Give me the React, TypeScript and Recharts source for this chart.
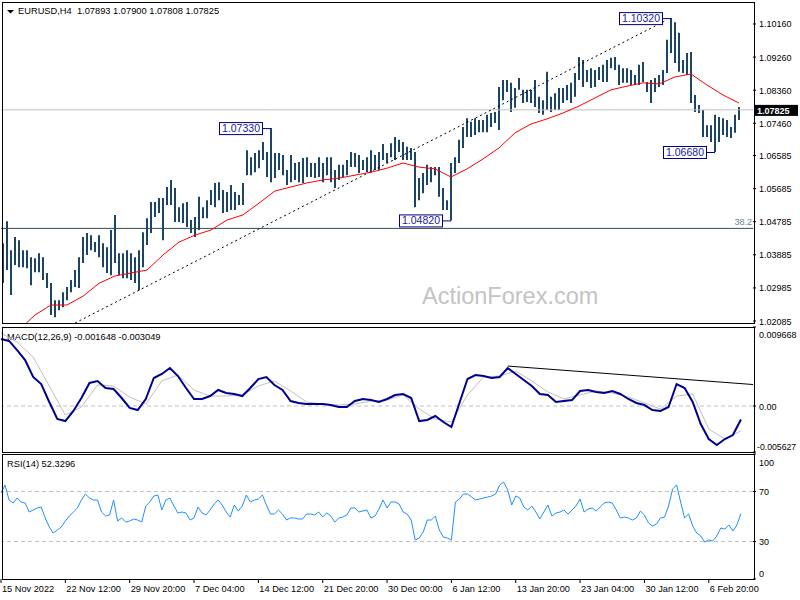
import React from 'react';
import { ComposedChart, Bar, Line, XAxis, YAxis, ReferenceLine, ReferenceDot } from 'recharts';

// H4 bars (each slot = one 4px column), highs / lows
const highs = [
  1.0420, 1.0480, 1.0401, 1.0437, 1.0428, 1.0401, 1.0401, 1.0382, 1.0379, 1.0393,
  1.0382, 1.0339, 1.0312, 1.0265, 1.0265, 1.0287, 1.0301, 1.0320, 1.0347, 1.0382,
  1.0437, 1.0448, 1.0442, 1.0423, 1.0442, 1.0420, 1.0409, 1.0456, 1.0497, 1.0393,
  1.0393, 1.0401, 1.0393, 1.0382, 1.0401, 1.0450, 1.0488, 1.0532, 1.0532, 1.0543,
  1.0543, 1.0573, 1.0592, 1.0570, 1.0518, 1.0529, 1.0532, 1.0483, 1.0491, 1.0546,
  1.0518, 1.0537, 1.0565, 1.0584, 1.0586, 1.0565, 1.0559, 1.0578, 1.0559, 1.0551,
  1.0584, 1.0673, 1.0654, 1.0665, 1.0673, 1.0695, 1.0668, 1.0733, 1.0665, 1.0665,
  1.0660, 1.0619, 1.0660, 1.0638, 1.0641, 1.0652, 1.0654, 1.0638, 1.0638, 1.0654,
  1.0638, 1.0654, 1.0654, 1.0619, 1.0633, 1.0633, 1.0646, 1.0668, 1.0665, 1.0660,
  1.0646, 1.0654, 1.0673, 1.0660, 1.0668, 1.0690, 1.0665, 1.0692, 1.0709, 1.0701,
  1.0695, 1.0682, 1.0679, 1.0668, 1.0597, 1.0611, 1.0633, 1.0627, 1.0627, 1.0627,
  1.0570, 1.0537, 1.0638, 1.0654, 1.0701, 1.0736, 1.0760, 1.0750, 1.0760, 1.0755,
  1.0755, 1.0769, 1.0774, 1.0777, 1.0845, 1.0864, 1.0864, 1.0856, 1.0842, 1.0869,
  1.0837, 1.0837, 1.0837, 1.0864, 1.0818, 1.0809, 1.0886, 1.0818, 1.0828, 1.0842,
  1.0842, 1.0850, 1.0856, 1.0883, 1.0926, 1.0918, 1.0891, 1.0896, 1.0891, 1.0899,
  1.0905, 1.0918, 1.0924, 1.0926, 1.0905, 1.0896, 1.0896, 1.0891, 1.0877, 1.0905,
  1.0913, 1.0858, 1.0864, 1.0869, 1.0877, 1.0891, 1.0973, 1.1032, 1.1021, 1.0992,
  1.0918, 1.0937, 1.0940, 1.0823, 1.0796, 1.0782, 1.0741, 1.0741, 1.0769, 1.0763,
  1.0760, 1.0755, 1.0736, 1.0769, 1.0790,
];
const lows = [
  1.0312, 1.0347, 1.0279, 1.0361, 1.0355, 1.0355, 1.0352, 1.0306, 1.0341, 1.0341,
  1.0320, 1.0298, 1.0225, 1.0219, 1.0238, 1.0246, 1.0265, 1.0287, 1.0301, 1.0298,
  1.0366, 1.0388, 1.0401, 1.0396, 1.0382, 1.0355, 1.0339, 1.0333, 1.0366, 1.0333,
  1.0325, 1.0325, 1.0320, 1.0312, 1.0292, 1.0355, 1.0415, 1.0448, 1.0491, 1.0502,
  1.0428, 1.0524, 1.0524, 1.0478, 1.0478, 1.0475, 1.0464, 1.0448, 1.0437, 1.0456,
  1.0488, 1.0488, 1.0524, 1.0518, 1.0537, 1.0502, 1.0505, 1.0510, 1.0510, 1.0524,
  1.0524, 1.0605, 1.0605, 1.0613, 1.0624, 1.0646, 1.0600, 1.0586, 1.0597, 1.0619,
  1.0605, 1.0578, 1.0586, 1.0592, 1.0586, 1.0584, 1.0600, 1.0600, 1.0597, 1.0600,
  1.0586, 1.0605, 1.0586, 1.0570, 1.0592, 1.0600, 1.0605, 1.0627, 1.0627, 1.0611,
  1.0619, 1.0613, 1.0613, 1.0619, 1.0619, 1.0646, 1.0638, 1.0654, 1.0646, 1.0668,
  1.0646, 1.0646, 1.0646, 1.0518, 1.0537, 1.0556, 1.0578, 1.0586, 1.0605, 1.0546,
  1.0510, 1.0510, 1.0482, 1.0611, 1.0638, 1.0679, 1.0709, 1.0709, 1.0714, 1.0722,
  1.0722, 1.0722, 1.0736, 1.0747, 1.0728, 1.0809, 1.0831, 1.0777, 1.0788, 1.0837,
  1.0801, 1.0804, 1.0801, 1.0790, 1.0774, 1.0769, 1.0782, 1.0777, 1.0782, 1.0782,
  1.0801, 1.0809, 1.0801, 1.0818, 1.0864, 1.0845, 1.0858, 1.0842, 1.0845, 1.0864,
  1.0858, 1.0858, 1.0896, 1.0891, 1.0850, 1.0856, 1.0856, 1.0850, 1.0850, 1.0850,
  1.0858, 1.0831, 1.0801, 1.0831, 1.0845, 1.0850, 1.0883, 1.0937, 1.0910, 1.0886,
  1.0883, 1.0877, 1.0801, 1.0777, 1.0774, 1.0709, 1.0709, 1.0695, 1.0668, 1.0695,
  1.0714, 1.0709, 1.0706, 1.0720, 1.0755,
];

// red moving average, one reading every 4th slot starting at slot 4
const ma = [
  1.0184, 1.0225, 1.0252, 1.0252, 1.0276, 1.0311, 1.0331, 1.0339, 1.0347, 1.0388,
  1.0423, 1.0442, 1.0456, 1.0483, 1.0497, 1.0529, 1.0562, 1.0573, 1.0584, 1.0592,
  1.0597, 1.0605, 1.0613, 1.0624, 1.0638, 1.0627, 1.0622, 1.0600, 1.0622, 1.0649,
  1.0679, 1.0720, 1.0744, 1.0758, 1.0774, 1.0793, 1.0815, 1.0837, 1.0847, 1.0856,
  1.0853, 1.0872, 1.0880, 1.0850, 1.0823, 1.0801,
];

// MACD main line, every 2nd slot
const macd = [
  0.00820, 0.00796, 0.00685, 0.00563, 0.00355, 0.00269, 0.00049, -0.00159, -0.00184, -0.00061,
  0.00098, 0.00282, 0.00306, 0.00220, 0.00208, 0.00098, -0.00024, -0.00049, 0.00086, 0.00343,
  0.00392, 0.00465, 0.00367, 0.00220, 0.00086, 0.00086, 0.00122, 0.00196, 0.00159, 0.00147,
  0.00122, 0.00220, 0.00330, 0.00355, 0.00257, 0.00196, 0.00061, 0.00037, 0.00024, 0.00024,
  0.00024, 0.00012, -0.00012, -0.00012, 0.00061, 0.00086, 0.00073, 0.00049, 0.00086, 0.00135,
  0.00147, 0.00098, -0.00184, -0.00171, -0.00122, -0.00196, -0.00257, 0.00037, 0.00330, 0.00379,
  0.00367, 0.00343, 0.00355, 0.00465, 0.00392, 0.00318, 0.00245, 0.00147, 0.00135, 0.00049,
  0.00061, 0.00073, 0.00184, 0.00196, 0.00171, 0.00159, 0.00184, 0.00147, 0.00086, 0.00037,
  0.00012, -0.00049, -0.00061, -0.00012, 0.00269, 0.00220, 0.00049, -0.00220, -0.00404, -0.00477,
  -0.00404, -0.00355, -0.00165,
];
// MACD signal, every 4th slot
const signal = [
  0.00894, 0.00783, 0.00600, 0.00245, -0.00110, -0.00012, 0.00257, 0.00245, 0.00110, 0.00024,
  0.00306, 0.00379, 0.00196, 0.00122, 0.00122, 0.00135, 0.00245, 0.00306, 0.00184, 0.00049,
  0.00024, 0.00012, 0.00024, 0.00061, 0.00073, 0.00135, -0.00037, -0.00159, -0.00196, 0.00135,
  0.00355, 0.00367, 0.00428, 0.00306, 0.00171, 0.00086, 0.00135, 0.00184, 0.00159, 0.00110,
  0.00037, -0.00037, 0.00122, 0.00147, -0.00282, -0.00404, -0.00305,
];

// RSI(14), every slot
const rsi = [
  68.8, 75.2, 63.2, 60.8, 64.8, 61.6, 60.8, 53.6, 55.2, 56.8,
  57.6, 48.8, 41.6, 36.8, 39.2, 41.6, 46.4, 50.4, 53.6, 56.8,
  63.2, 68.0, 64.8, 63.2, 63.2, 53.6, 50.4, 51.2, 63.2, 46.4,
  48.8, 45.6, 46.4, 48.0, 47.2, 45.6, 58.4, 61.6, 66.4, 67.2,
  55.2, 63.2, 64.8, 58.4, 52.8, 53.6, 52.8, 47.2, 48.8, 57.6,
  52.8, 51.2, 55.2, 60.0, 63.2, 59.2, 53.6, 49.6, 59.2, 54.4,
  58.4, 67.2, 61.6, 63.2, 64.0, 67.2, 59.2, 52.0, 52.0, 55.2,
  52.0, 47.2, 48.8, 48.8, 48.0, 48.0, 52.0, 52.0, 51.2, 53.6,
  49.6, 52.8, 50.4, 45.6, 48.8, 49.6, 51.2, 56.8, 56.8, 53.6,
  54.4, 55.2, 48.8, 50.4, 56.0, 63.2, 56.8, 61.6, 61.6, 60.0,
  53.6, 52.0, 47.2, 31.2, 32.8, 37.6, 47.2, 47.2, 50.4, 39.2,
  33.6, 32.8, 31.2, 61.6, 64.0, 68.0, 68.0, 65.6, 63.2, 64.0,
  64.8, 65.6, 66.4, 68.0, 75.2, 77.6, 71.2, 59.2, 66.4, 64.8,
  57.6, 55.2, 58.4, 53.6, 48.0, 53.6, 59.2, 50.4, 52.8, 53.6,
  55.2, 52.0, 55.2, 58.4, 64.0, 53.6, 56.0, 56.8, 54.4, 57.6,
  60.8, 61.6, 60.8, 55.2, 48.8, 49.6, 48.8, 47.2, 48.8, 54.4,
  51.2, 44.8, 42.4, 44.0, 48.8, 49.6, 58.4, 72.0, 75.2, 61.6,
  48.8, 52.0, 42.4, 36.8, 34.4, 29.6, 31.2, 30.4, 34.4, 40.8,
  40.0, 43.2, 38.4, 43.2, 52.3,
];

const timeLabels = [
  '15 Nov 2022', '22 Nov 12:00', '29 Nov 20:00', '7 Dec 04:00', '14 Dec 12:00', '21 Dec 20:00',
  '30 Dec 00:00', '6 Jan 12:00', '13 Jan 20:00', '23 Jan 04:00', '30 Jan 12:00', '6 Feb 20:00',
];
const timeLabelSlots = [0, 16, 32, 48, 64, 80, 96, 112, 128, 144, 160, 176];

const priceTicks = [1.1016, 1.0926, 1.0836, 1.0746, 1.06585, 1.05685, 1.04785, 1.03885, 1.02985, 1.02085];
const macdTicks = [0.009668, 0, -0.005627];
const rsiTicks = [100, 70, 30, 0];
const rsiLevels = [70, 30];

const lastPrice = 1.07825;
const fibLevel = 1.04603;
const fibText = '38.2';
const peakSlots = [67, 112, 167, 178];
const peakValues = [1.0733, 1.0482, 1.1032, 1.0668];
const priceTrend = [{ x: 18, y: 1.0203 }, { x: 166, y: 1.1027 }];
const macdTrend = [{ x: 126, y: 0.00489 }, { x: 187, y: 0.00263 }];

const SLOTS = 188;
const BAR_COLOR = '#1b4562';
const FONT = "'Liberation Sans', Arial, sans-serif";

const rows = Array.from({ length: SLOTS }, (_, i) => {
  const has = i < highs.length;
  return {
    i,
    hl: has ? [lows[i], highs[i]] : null,
    ma: has && i >= 4 && i % 4 === 0 ? ma[i / 4 - 1] : null,
    macd: has && i % 2 === 0 ? macd[i / 2] : null,
    signal: has && i % 4 === 0 ? signal[i / 4] : null,
    rsi: has ? rsi[i] : null,
  };
});

const HLBar = (props: any) => {
  const { x, y, width, height, payload } = props;
  if (!payload || payload.hl == null) return null;
  const cx = Math.round(x + width / 2);
  const top = Math.min(y, y + height);
  const bot = Math.max(y, y + height);
  return <line x1={cx} x2={cx} y1={top} y2={Math.max(bot, top + 1)} stroke={BAR_COLOR} strokeWidth={2} />;
};

const PriceTick = (props: any) => {
  const { x, y, payload } = props;
  return (
    <text x={x + 1} y={y + 3.5} fontSize={9} fontFamily={FONT} fill="#000">
      {payload.value.toFixed(5)}
    </text>
  );
};

const MacdTick = (props: any) => {
  const { x, y, payload } = props;
  const v = payload.value;
  const dy = v === macdTicks[0] ? 7 : v === macdTicks[2] ? -6 : 0;
  return (
    <text x={v < 0 ? x - 1 : x + 1} y={y + dy + 3.5} fontSize={v < 0 ? 8.7 : 9} fontFamily={FONT} fill="#000">
      {v === 0 ? '0.00' : v.toFixed(6)}
    </text>
  );
};

const RsiTick = (props: any) => {
  const { x, y, payload } = props;
  const v = payload.value;
  const dy = v === 100 ? 8 : v === 0 ? -6 : 0;
  return (
    <text x={x + 1} y={y + dy + 3.5} fontSize={9} fontFamily={FONT} fill="#000">
      {v}
    </text>
  );
};

const TimeTick = (props: any) => {
  const { x, y, payload } = props;
  const k = timeLabelSlots.indexOf(payload.value);
  if (k < 0) return null;
  return (
    <g>
      <line x1={x} x2={x} y1={y} y2={y + 4} stroke="#000" />
      <text x={x + 1} y={y + 13} fontSize={9.2} fontFamily={FONT} fill="#000">
        {timeLabels[k]}
      </text>
    </g>
  );
};

const PeakBox = (props: any) => {
  const { cx, cy, text } = props;
  if (cx == null || cy == null) return null;
  const right = cx - 9;
  const w = 43;
  return (
    <g>
      <line x1={right} x2={cx} y1={cy + 0.5} y2={cy + 0.5} stroke="#000080" />
      <rect x={right - w + 0.5} y={cy - 5.5} width={w} height={12} fill="#fff" stroke="#000080" />
      <text x={right - w / 2 + 0.5} y={cy + 4} textAnchor="middle" fontSize={10.5} fontFamily={FONT} fill="#1a1aa0">
        {text}
      </text>
    </g>
  );
};

const LastPriceLabel = (props: any) => {
  const vb = props.viewBox || {};
  const x = vb.x + vb.width + 2;
  return (
    <g>
      <rect x={x} y={vb.y - 5} width={43} height={11} fill="#000" />
      <text x={x + 2} y={vb.y + 4} fontSize={9} fontWeight="bold" fontFamily={FONT} fill="#fff">
        {lastPrice.toFixed(5)}
      </text>
    </g>
  );
};

const FibLabel = (props: any) => {
  const vb = props.viewBox || {};
  return (
    <text x={vb.x + vb.width - 1} y={vb.y - 3} textAnchor="end" fontSize={9} fontFamily={FONT} fill="#708090">
      {fibText}
    </text>
  );
};

const abs = (top: number): React.CSSProperties => ({ position: 'absolute', left: 0, top });
const frame = (top: number, height: number): React.CSSProperties => ({
  position: 'absolute', left: 2, top, width: 753, height, border: '1px solid #000', boxSizing: 'border-box',
});

export default function App() {
  return (
    <div style={{ position: 'fixed', left: 0, top: 0, width: 800, height: 600, background: '#fff', overflow: 'hidden' }}>
      <svg width={800} height={600} style={abs(0)}>
        <text x={422} y={304} fontSize={23.5} fontFamily={FONT} fill="#c4c4c4">ActionForex.com</text>
        <polygon points="7,10 14,10 10.5,13.5" fill="#000" />
        <text x={18} y={14} fontSize={9.3} fontFamily={FONT} fill="#000" style={{ whiteSpace: 'pre' }}>
          {'EURUSD,H4  1.07893 1.07900 1.07808 1.07825'}
        </text>
        <text x={7} y={339.5} fontSize={9.3} fontFamily={FONT} fill="#000">MACD(12,26,9) -0.001648 -0.003049</text>
        <text x={7} y={467} fontSize={9.3} fontFamily={FONT} fill="#000">RSI(14) 52.3296</text>
      </svg>

      <div style={abs(0)}>
        <ComposedChart width={800} height={600} data={rows} margin={{ top: 2, right: 0, bottom: 277, left: 1 }}>
          <XAxis dataKey="i" hide />
          <YAxis orientation="right" width={47} domain={[1.02031, 1.10758]} allowDataOverflow ticks={priceTicks}
            interval={0} axisLine={false} tickSize={3} tickLine={{ stroke: '#000' }} tick={<PriceTick />} />
          <ReferenceLine y={lastPrice} stroke="#c0c0c0" label={<LastPriceLabel />} />
          <ReferenceLine y={fibLevel} stroke="#2f4f4f" label={<FibLabel />} />
          <ReferenceLine segment={priceTrend} stroke="#000" strokeDasharray="2 3" ifOverflow="visible" />
          <Bar dataKey="hl" shape={HLBar} isAnimationActive={false} />
          <Line dataKey="ma" stroke="#ff0000" strokeWidth={1} dot={false} connectNulls isAnimationActive={false} />
          {peakSlots.map((s, k) => (
            <ReferenceDot key={s} x={s} y={peakValues[k]} r={0}
              shape={(p: any) => <PeakBox {...p} text={peakValues[k].toFixed(5)} />} />
          ))}
        </ComposedChart>
      </div>

      <div style={abs(0)}>
        <ComposedChart width={800} height={600} data={rows} margin={{ top: 327, right: 0, bottom: 148, left: 1 }}>
          <XAxis dataKey="i" hide />
          <YAxis orientation="right" width={47} domain={[-0.005627, 0.009668]} allowDataOverflow ticks={macdTicks}
            interval={0} axisLine={false} tickSize={3} tickLine={{ stroke: '#000' }} tick={<MacdTick />} />
          <ReferenceLine y={0} stroke="#c0c0c0" strokeDasharray="4 3" />
          <ReferenceLine segment={macdTrend} stroke="#000" ifOverflow="visible" />
          <Line dataKey="signal" stroke="#c0c0c0" strokeWidth={1} dot={false} connectNulls isAnimationActive={false} />
          <Line dataKey="macd" stroke="#000090" strokeWidth={2} dot={false} connectNulls isAnimationActive={false} />
        </ComposedChart>
      </div>

      <div style={abs(0)}>
        <ComposedChart width={800} height={600} data={rows} margin={{ top: 454, right: 0, bottom: 0, left: 1 }}>
          <XAxis dataKey="i" height={21} interval={0} axisLine={false} tickLine={false} tickSize={0} tickMargin={0}
            tick={<TimeTick />} />
          <YAxis orientation="right" width={47} domain={[0, 100]} ticks={rsiTicks} interval={0} axisLine={false}
            tickSize={3} tickLine={{ stroke: '#000' }} tick={<RsiTick />} />
          {rsiLevels.map((l) => (
            <ReferenceLine key={l} y={l} stroke="#c0c0c0" strokeDasharray="4 3" />
          ))}
          <Line dataKey="rsi" stroke="#1e90ff" strokeWidth={1} dot={false} isAnimationActive={false} />
        </ComposedChart>
      </div>

      <div style={frame(2, 322)} />
      <div style={frame(327, 126)} />
      <div style={frame(454, 126)} />
    </div>
  );
}
